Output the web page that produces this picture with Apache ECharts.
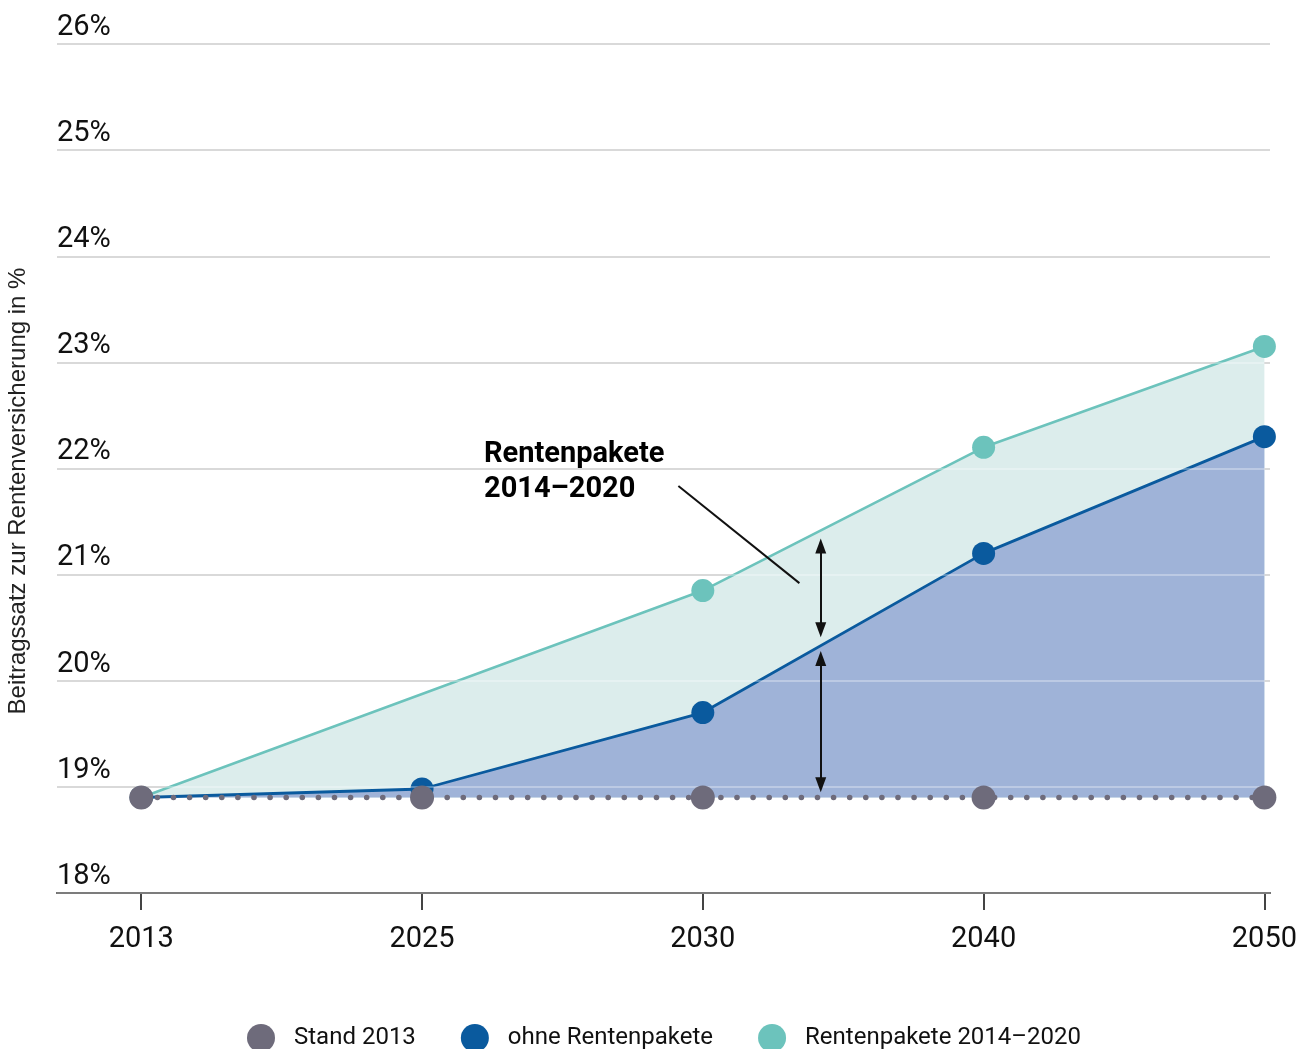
<!DOCTYPE html>
<html>
<head>
<meta charset="utf-8">
<style>
  html, body { margin: 0; padding: 0; background: #fff; }
  #chart { width: 1307px; height: 1049px; }
</style>
<script src="https://cdn.jsdelivr.net/npm/echarts@6/dist/echarts.min.js"></script>
</head>
<body>
<div id="chart"></div>
<script>
// Beitragssatz zur Rentenversicherung, Projektion bis 2050
const years = ['2013', '2025', '2030', '2040', '2050'];
const stand2013 = [18.9, 18.9, 18.9, 18.9, 18.9];
const ohneRentenpakete = [18.9, 18.98, 19.7, 21.2, 22.3];
const rentenpakete = [18.9, null, 20.85, 22.2, 23.15];
const yTicks = [18, 19, 20, 21, 22, 23, 24, 25, 26];

const seriesNames = ['Stand 2013', 'ohne Rentenpakete', 'Rentenpakete 2014–2020'];

const GREY = '#6e6b7b';
const BLUE = '#0a5a9e';
const TEAL = '#6cc3bc';

// pair each value with its category position; gaps are skipped
const toPoints = arr => arr.map((v, i) => (v == null ? null : [i, v])).filter(p => p);

const chart = echarts.init(document.getElementById('chart'));

const baseFont = 'Roboto, "Noto Sans", sans-serif';

chart.setOption({
  animation: false,
  backgroundColor: '#ffffff',
  grid: { left: 57, right: 37, top: 44, bottom: 156, containLabel: false },
  legend: {
    data: seriesNames,
    left: 247,
    top: 1024,
    padding: 0,
    itemWidth: 28,
    itemHeight: 28,
    itemGap: 45,
    icon: 'circle',
    textStyle: { fontFamily: baseFont, fontSize: 24, color: '#111', padding: [0, 0, 0, 14] }
  },
  xAxis: {
    type: 'value',
    min: -0.3,
    max: 4.02,
    axisLine: { show: true, lineStyle: { color: '#444', width: 2 } },
    axisTick: {
      show: true, length: 17, customValues: years.map((_, i) => i),
      lineStyle: { color: '#444', width: 2 }
    },
    axisLabel: {
      customValues: years.map((_, i) => i),
      formatter: v => years[Math.round(v)] || '',
      margin: 32,
      fontFamily: baseFont, fontSize: 29, color: '#111'
    },
    splitLine: { show: false }
  },
  yAxis: [{
    type: 'value',
    min: yTicks[0],
    max: yTicks[yTicks.length - 1],
    interval: 1,
    axisLine: { show: false },
    axisTick: { show: false },
    axisLabel: {
      inside: true,
      margin: 0,
      align: 'left',
      verticalAlign: 'bottom',
      padding: [0, 0, 2, 0],
      formatter: v => v + '%',
      fontFamily: baseFont, fontSize: 29, color: '#111'
    },
    splitLine: { show: true, lineStyle: { color: '#c9c9c9', width: 2 } }
  }, {
    // light veil over the gridlines so they stay visible across the filled areas
    type: 'value',
    min: yTicks[0],
    max: yTicks[yTicks.length - 1],
    interval: 1,
    z: 5,
    axisLine: { show: false },
    axisTick: { show: false },
    axisLabel: { show: false },
    splitLine: { show: true, lineStyle: { color: 'rgba(255,255,255,0.3)', width: 2 } }
  }],
  series: [{
    name: seriesNames[2],
    type: 'line',
    z: 2,
    data: toPoints(rentenpakete),
    symbol: 'circle',
    symbolSize: 23,
    itemStyle: { color: TEAL },
    lineStyle: { color: TEAL, width: 2.5 },
    areaStyle: { color: '#dcedec', opacity: 1, origin: 18.9 }
  }, {
    name: seriesNames[1],
    type: 'line',
    z: 3,
    data: toPoints(ohneRentenpakete),
    symbol: 'circle',
    symbolSize: 23,
    itemStyle: { color: BLUE },
    lineStyle: { color: BLUE, width: 2.8 },
    areaStyle: { color: '#9fb3d8', opacity: 1, origin: 18.9 }
  }, {
    name: seriesNames[0],
    type: 'line',
    z: 6,
    data: toPoints(stand2013),
    symbol: 'circle',
    symbolSize: 24,
    itemStyle: { color: GREY },
    lineStyle: { color: GREY, width: 5.5, type: [0.1, 16], cap: 'round' },
    markLine: {
      silent: true,
      animation: false,
      symbol: ['triangle', 'triangle'],
      symbolSize: [11, 15],
      lineStyle: { color: '#111', width: 2, type: 'solid' },
      label: { show: false },
      data: [
        [{ coord: [2.42, 21.27] }, { coord: [2.42, 20.48] }],
        [{ coord: [2.42, 20.21] }, { coord: [2.42, 19.02] }],
        [{ coord: [1.913, 21.835], symbol: 'none' }, { coord: [2.344, 20.92], symbol: 'none' }]
      ]
    }
  }],
  graphic: [{
    type: 'text',
    x: 18, y: 491,
    rotation: Math.PI / 2,
    style: {
      text: 'Beitragssatz zur Rentenversicherung in %',
      font: '24px "Liberation Sans", Arial, sans-serif',
      fill: '#222',
      align: 'center',
      verticalAlign: 'middle'
    }
  }, {
    type: 'text',
    left: 484, top: 437,
    style: {
      text: 'Rentenpakete\n2014–2020',
      font: 'bold 29px Roboto, sans-serif',
      lineHeight: 35,
      fill: '#000'
    }
  }, {
    type: 'text',
    left: 845, top: 714,
    style: {
      text: 'Alterung',
      font: 'bold 29px Roboto, sans-serif',
      fill: '#000'
    }
  }]
});
</script>
</body>
</html>
